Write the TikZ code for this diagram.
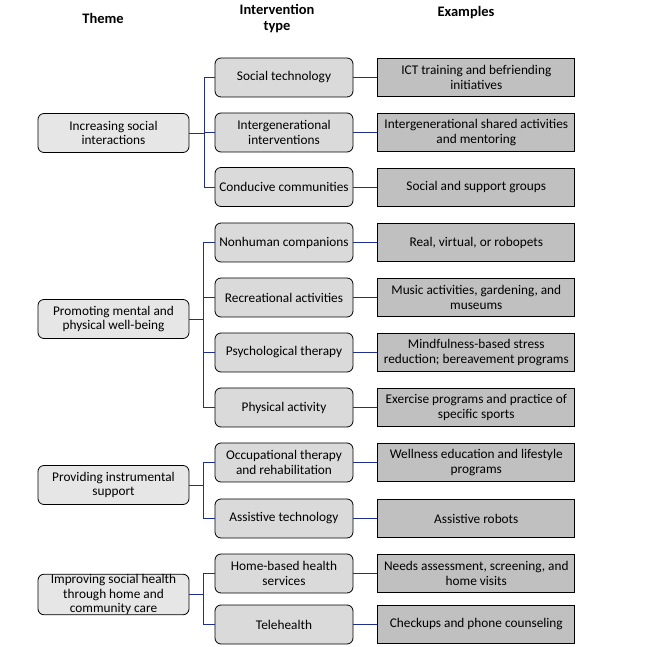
\documentclass[tikz,border=0pt]{standalone}
\usepackage{fontspec}
\setmainfont{Carlito}
\usepackage{xcolor}
\usetikzlibrary{positioning}

\definecolor{themefill}{HTML}{E6E6E6}
\definecolor{typefill}{HTML}{DADADA}
\definecolor{examplefill}{HTML}{C0C0C0}
\definecolor{linkblue}{HTML}{1F2F8F}

\begin{document}
\begin{tikzpicture}[
    x=1pt, y=-1pt,
    node distance=24pt,
    theme/.style={draw, line width=0.8pt, rectangle, rounded corners=6pt, fill=themefill,
                  minimum width=151pt, minimum height=39pt, inner sep=0pt,
                  align=center, font=\fontsize{13.3}{14.6}\selectfont},
    ivtype/.style={draw, line width=0.8pt, rectangle, rounded corners=6pt, fill=typefill,
                  minimum width=138pt, minimum height=39pt, inner sep=0pt,
                  align=center, font=\fontsize{13.3}{15}\selectfont},
    example/.style={draw, line width=0.8pt, rectangle, fill=examplefill,
                  minimum width=197pt, minimum height=38pt, inner sep=0pt,
                  align=center, font=\fontsize{13.3}{15}\selectfont},
    header/.style={align=center, font=\bfseries\fontsize{14.5}{16}\selectfont},
    link/.style={draw=linkblue, line width=0.8pt}
]
    \useasboundingbox (0,0) rectangle (649,647);

    % Column headers
    \node[header] (hTheme) at (103,18) {Theme};
    \node[header] (hType) at (277,19) {Intervention\\type};
    \node[header] (hEx) at (466,13) {Examples};

    % Themes
    \node[theme] (th1) at (113.5,133) {Increasing social\\interactions};
    \node[theme] (th2) at (113.5,319) {Promoting mental and\\physical well-being};
    \node[theme] (th3) at (113.5,485) {Providing instrumental\\support};
    \node[theme] (th4) at (113.5,594.5) {Improving social health\\through home  and\\community care};

    % Intervention types
    \node[ivtype] (iv1) at (284,77.5) {Social technology};
    \node[ivtype] (iv2) at (284,132.5) {Intergenerational\\interventions};
    \node[ivtype] (iv3) at (284,187) {Conducive communities};
    \node[ivtype] (iv4) at (284,242.5) {Nonhuman  companions};
    \node[ivtype] (iv5) at (284,297.5) {Recreational activities};
    \node[ivtype] (iv6) at (284,352.5) {Psychological therapy};
    \node[ivtype] (iv7) at (284,407.5) {Physical activity};
    \node[ivtype] (iv8) at (284,462.5) {Occupational therapy\\and rehabilitation};
    \node[ivtype] (iv9) at (284,518.5) {Assistive technology};
    \node[ivtype] (iv10) at (284,573.5) {Home-based health\\services};
    \node[ivtype] (iv11) at (284,624.5) {Telehealth};

    % Examples
    \node[example, right=of iv1] (ex1) {ICT training and befriending\\initiatives};
    \node[example, right=of iv2] (ex2) {Intergenerational shared activities\\and mentoring};
    \node[example, right=of iv3] (ex3) {Social and support groups};
    \node[example, right=of iv4] (ex4) {Real, virtual, or robopets};
    \node[example, right=of iv5] (ex5) {Music activities, gardening, and\\museums};
    \node[example, right=of iv6] (ex6) {Mindfulness-based stress\\reduction; bereavement  programs};
    \node[example, right=of iv7] (ex7) {Exercise programs and practice of\\specific sports};
    \node[example, right=of iv8] (ex8) {Wellness education and lifestyle\\programs};
    \node[example, right=of iv9] (ex9) {Assistive robots};
    \node[example, right=of iv10] (ex10) {Needs  assessment, screening, and\\home visits};
    \node[example, right=of iv11] (ex11) {Checkups and phone  counseling};

    % Theme to type
    \draw[link] (th1.east) -- ++(15,0) |- (iv1.west);
    \draw[link] (th1.east) -- ++(15,0) |- (iv2.west);
    \draw[link] (th1.east) -- ++(15,0) |- (iv3.west);
    \draw[link] (th2.east) -- ++(14,0) |- (iv4.west);
    \draw[link] (th2.east) -- ++(14,0) |- (iv5.west);
    \draw[link] (th2.east) -- ++(14,0) |- (iv6.west);
    \draw[link] (th2.east) -- ++(14,0) |- (iv7.west);
    \draw[link] (th3.east) -- ++(14,0) |- (iv8.west);
    \draw[link] (th3.east) -- ++(14,0) |- (iv9.west);
    \draw[link] (th4.east) -- ++(14,0) |- (iv10.west);
    \draw[link] (th4.east) -- ++(14,0) |- (iv11.west);

    % Type to examples
    \draw[link] (iv1) -- (ex1);
    \draw[link] (iv2) -- (ex2);
    \draw[link] (iv3) -- (ex3);
    \draw[link] (iv4) -- (ex4);
    \draw[link] (iv5) -- (ex5);
    \draw[link] (iv6) -- (ex6);
    \draw[link] (iv7) -- (ex7);
    \draw[link] (iv8) -- (ex8);
    \draw[link] (iv9) -- (ex9);
    \draw[link] (iv10) -- (ex10);
    \draw[link] (iv11) -- (ex11);
\end{tikzpicture}
\end{document}
